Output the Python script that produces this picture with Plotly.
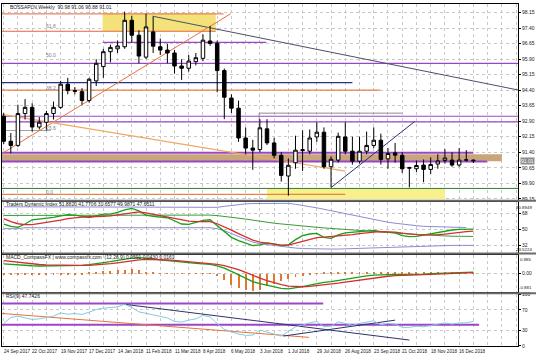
import plotly.graph_objects as go
from plotly.subplots import make_subplots

# ---------------- data ----------------
open_ = [93.14, 91.93, 91.73, 93.27, 93.57, 92.62, 92.85, 93.27, 93.57, 94.69,
         94.38, 94.33, 93.90, 94.85, 95.54, 96.26, 96.40, 96.50, 97.78, 97.06,
         96.00, 97.22, 96.50, 96.34, 96.20, 95.57, 95.46, 95.78, 95.94, 96.78,
         96.66, 95.35, 94.02, 93.53, 92.09, 91.60, 91.53, 92.53, 91.85, 91.25,
         90.25, 90.89, 91.48, 91.45, 92.14, 92.37, 90.70, 91.02, 92.14, 91.45,
         90.97, 91.45, 91.73, 91.98, 91.08, 91.37, 91.25, 90.63, 90.60, 90.78,
         90.57, 90.83, 91.00, 91.02, 90.78, 91.02, 90.98]
high = [93.30, 92.33, 93.70, 93.97, 93.77, 93.10, 93.40, 93.85, 94.85, 95.00,
        94.55, 94.50, 95.00, 95.90, 96.40, 96.60, 96.80, 98.20, 98.00, 97.30,
        98.10, 97.95, 96.90, 96.65, 96.35, 95.90, 96.10, 96.20, 97.10, 97.50,
        96.80, 95.45, 94.20, 93.90, 92.60, 92.00, 93.00, 93.00, 92.10, 91.40,
        91.10, 92.20, 92.46, 92.50, 92.85, 92.60, 91.20, 92.35, 92.85, 92.15,
        92.15, 92.40, 92.60, 92.30, 91.60, 91.85, 91.40, 90.70, 91.00, 91.05,
        91.15, 91.30, 91.55, 91.40, 91.60, 91.50, 91.06]
low = [91.80, 91.35, 91.65, 92.98, 92.40, 92.50, 92.45, 92.98, 93.50, 94.20,
       94.20, 93.70, 93.80, 94.60, 95.00, 95.75, 96.20, 96.40, 96.70, 95.70,
       95.90, 96.20, 96.10, 95.70, 95.20, 94.90, 95.30, 95.60, 95.80, 96.55,
       94.30, 93.00, 93.30, 91.90, 91.30, 90.55, 91.40, 91.75, 91.10, 89.98,
       89.30, 90.60, 90.50, 91.30, 91.90, 90.60, 89.70, 90.90, 91.30, 90.80,
       90.85, 91.30, 91.60, 90.80, 90.60, 90.90, 90.40, 89.70, 90.45, 89.95,
       90.35, 90.60, 90.85, 90.70, 90.70, 90.95, 90.88]
close = [91.93, 91.73, 93.27, 93.57, 92.62, 92.85, 93.27, 93.57, 94.69, 94.38,
         94.35, 93.90, 94.93, 95.70, 96.26, 96.47, 96.54, 97.78, 97.06, 96.05,
         97.46, 96.53, 96.34, 96.20, 95.57, 95.46, 95.81, 95.97, 96.82, 96.66,
         95.35, 94.06, 93.53, 92.09, 91.60, 91.50, 92.58, 91.85, 91.25, 90.28,
         90.77, 91.50, 91.52, 92.09, 92.37, 90.70, 91.06, 92.17, 91.45, 90.97,
         91.45, 91.73, 91.98, 91.05, 91.34, 91.26, 90.60, 90.65, 90.76, 90.57,
         90.81, 90.98, 91.12, 90.78, 91.02, 91.03, 91.01]
bars = list(range(len(close)))

date_labels = ["24 Sep 2017", "22 Oct 2017", "19 Nov 2017", "17 Dec 2017", "14 Jan 2018",
               "11 Feb 2018", "11 Mar 2018", "8 Apr 2018", "6 May 2018", "3 Jun 2018",
               "1 Jul 2018", "29 Jul 2018", "26 Aug 2018", "23 Sep 2018", "21 Oct 2018",
               "18 Nov 2018", "16 Dec 2018"]
date_label_bars = [0, 4, 8, 12, 16, 20, 24, 28, 32, 36, 40, 44, 48, 52, 56, 60, 64]

price_ticks = [98.15, 97.40, 96.65, 95.90, 95.15, 94.40, 93.65, 92.90, 92.15, 91.40, 90.65, 89.90, 89.15]

# Traders Dynamic Index
tdi_upper = [75.3]*20 + [74.7]*11 + [75.8, 77.0, 78.1, 78.6, 79.0, 79.2, 79.2, 79.2, 79.2, 79.2,
             78.1, 77.0, 75.8, 74.1, 72.5, 70.8, 69.1, 67.4, 65.7, 64.0, 62.3, 60.6, 59.2, 57.8,
             56.7, 55.6, 54.7, 53.9, 53.2, 52.8, 52.4, 52.2, 52.1, 52.0, 51.88]
tdi_lower = [50.5, 50.5, 50.5] + [51.6]*27 + [50.5, 48.3, 44.9, 41.5, 38.2, 35.3, 33.6, 32.5, 31.4,
             30.3, 29.4, 28.6, 28.0, 27.7, 27.45, 27.45, 27.45, 27.45, 27.7, 28.0, 28.4, 28.8, 29.2,
             29.5, 29.8, 30.2, 30.5, 30.7, 30.9, 31.2, 31.4, 31.5, 31.6, 31.6, 31.6, 31.6, 31.66]
tdi_base = [65.5]*11 + [66.3]*15 + [65.9]*4 + [65.3, 64.5, 63.6, 62.6, 61.4, 60.2, 58.8, 57.6,
            56.7, 55.9, 55.0, 54.2, 53.4, 52.8, 52.1, 51.4, 50.9, 50.3, 50.0, 49.4, 48.9, 48.3,
            47.7, 47.1, 46.4, 45.7, 45.1, 44.5, 43.9, 43.4, 43.0, 42.6, 42.3, 42.0, 41.9, 41.8, 41.77]
tdi_rsi = [55.8, 53.1, 52.0, 55.8, 60.6, 61.4, 62.1, 63.2, 65.1, 66.3, 65.9, 64.4, 63.2, 65.1,
           67.0, 67.0, 68.9, 71.9, 73.4, 70.8, 65.9, 64.4, 64.0, 62.9, 59.5, 55.8, 55.4, 57.6,
           59.9, 60.6, 53.9, 47.1, 40.7, 37.0, 34.0, 31.4, 32.2, 34.4, 33.3, 31.4, 32.2, 38.1,
           42.6, 44.5, 45.2, 40.7, 39.6, 43.4, 45.7, 46.4, 47.9, 48.6, 48.6, 47.1, 46.4, 45.7,
           42.6, 41.5, 41.9, 43.4, 44.1, 45.7, 47.1, 49.0, 49.7, 50.2, 49.99]
tdi_signal = [61.8, 58.4, 56.1, 55.0, 55.0, 56.1, 57.3, 58.4, 60.1, 61.8, 62.9, 63.5, 64.0, 64.0,
              64.6, 65.1, 66.3, 67.9, 69.1, 69.6, 68.5, 66.8, 65.1, 63.5, 61.8, 60.1, 59.0, 58.4,
              58.4, 58.4, 56.1, 52.8, 48.8, 44.9, 40.9, 37.6, 35.3, 34.2, 33.1, 31.9, 31.9, 34.2,
              36.5, 38.7, 40.4, 40.9, 41.5, 42.6, 43.2, 43.8, 44.9, 46.0, 46.6, 47.1, 47.1, 46.6,
              45.5, 44.3, 43.8, 43.4, 43.4, 43.8, 44.3, 45.5, 46.6, 47.1, 47.65]

# MACD CompassFX
macd_main = [0.45, 0.42, 0.39, 0.37, 0.36, 0.35, 0.35, 0.35, 0.36, 0.37, 0.37, 0.38,
             0.41, 0.45, 0.50, 0.55, 0.61, 0.67, 0.72, 0.74,
             0.72, 0.68, 0.64, 0.60, 0.57, 0.53, 0.50, 0.47, 0.45, 0.43,
             0.36, 0.25, 0.10, -0.06, -0.22, -0.38, -0.48, -0.56, -0.63, -0.70, -0.72,
             -0.68, -0.62, -0.55, -0.47, -0.42, -0.38, -0.32, -0.26, -0.20, -0.15,
             -0.11, -0.08, -0.06, -0.05, -0.04, -0.05, -0.05, -0.04, -0.03, -0.01,
             0.01, 0.02, 0.03, 0.04, 0.05, 0.059]
macd_signal = [0.60, 0.56, 0.52, 0.48, 0.45, 0.42, 0.40, 0.39, 0.38, 0.38, 0.38, 0.38,
               0.38, 0.40, 0.42, 0.46, 0.50, 0.55, 0.60, 0.64,
               0.66, 0.66, 0.65, 0.63, 0.61, 0.58, 0.55, 0.52, 0.49, 0.47,
               0.43, 0.37, 0.29, 0.18, 0.05, -0.09, -0.22, -0.33, -0.43, -0.52, -0.59,
               -0.62, -0.62, -0.60, -0.57, -0.53, -0.49, -0.45, -0.40, -0.35, -0.30,
               -0.25, -0.20, -0.16, -0.13, -0.10, -0.08, -0.07, -0.06, -0.05, -0.04,
               -0.03, -0.02, -0.01, 0.01, 0.03, 0.043]
macd_hist = [-0.07, -0.07, -0.06, -0.06, -0.06, -0.05, -0.05, -0.05, -0.05, -0.04, -0.04, -0.04,
             0.05, 0.08, 0.12, 0.15, 0.18, 0.20, 0.22, 0.18,
             0.10, 0.05, 0.03, 0.03, 0.03, 0.03, 0.03, 0.03, 0.03, 0.03,
             -0.10, -0.30, -0.50, -0.65, -0.75, -0.80, -0.75, -0.55, -0.45, -0.35, -0.25,
             -0.15, -0.08, -0.04, 0.04, 0.05, 0.05, 0.06, 0.06, 0.06, 0.06,
             0.07, 0.07, 0.07, 0.06, 0.06, 0.05, 0.05, 0.05, 0.05, 0.05,
             0.05, 0.05, 0.05, 0.05, 0.05, 0.016]

rsi9 = [43.7, 55.2, 57.7, 55.2, 51.3, 52.5, 55.2, 57.7, 64.0, 61.5, 62.9, 61.0, 65.4, 70.6, 73.1,
        74.4, 75.6, 80.8, 74.4, 66.0, 62.9, 60.2, 56.3, 54.4, 47.5, 46.2, 50.0, 52.5, 59.0, 56.3,
        43.7, 32.1, 27.5, 23.1, 20.6, 21.2, 30.8, 27.5, 23.1, 19.2, 27.5, 37.1, 40.4, 44.8, 47.5,
        37.1, 38.5, 46.7, 43.7, 39.8, 43.7, 46.2, 48.7, 41.0, 43.7, 42.3, 36.0, 36.0, 38.5, 37.1,
        39.8, 42.3, 44.8, 42.3, 44.8, 44.8, 47.74]

# drawn objects on the price chart: (price, start bar, end bar, colour, width)
X_LEFT, X_RIGHT = -0.24, 72.27
h_levels = [
    (98.09, X_LEFT, 30.9, "#E8643C", 1),
    (97.25, X_LEFT, 29.8, "#E8643C", 1),
    (96.71, 13.9, 36.9, "#9A46C8", 1.2),
    (95.70, X_LEFT, X_RIGHT, "#9A46C8", 1.2),
    (94.77, X_LEFT, 49.0, "#27308A", 1.2),
    (94.40, X_LEFT, 52.9, "#E8824A", 1.2),
    (93.29, 35.9, 56.0, "#8C8C8C", 1),
    (93.14, X_LEFT, X_RIGHT, "#9A46C8", 1.2),
    (92.87, X_LEFT, X_RIGHT, "#9A46C8", 1.2),
    (92.45, X_LEFT, 6.6, "#A0A0A0", 1),
    (91.38, X_LEFT, 66.0, "#9A46C8", 2),
    (90.95, X_LEFT, 67.9, "#9A46C8", 2),
    (89.65, X_LEFT, X_RIGHT, "#2E7D32", 1),
    (89.36, X_LEFT, 48.0, "#E8824A", 1.2),
]
# zones: (bar0, bar1, price0, price1, colour)
zones = [
    (13.9, 29.8, 97.25, 98.11, "#F3E27A"),
    (X_LEFT, 70.0, 90.96, 91.30, "#C9A57C"),
    (37.0, 62.0, 89.13, 89.64, "#F8F08A"),
]
# trend lines: (bar0, price0, bar1, price1, colour, width)
trends = [
    (20.9, 97.98, X_RIGHT, 94.41, "#4B4F6B", 1),
    (-0.14, 91.36, 31.9, 98.10, "#E8703A", 1),
    (X_LEFT, 93.23, 48.0, 90.49, "#F0A860", 1.2),
    (46.0, 89.69, 57.8, 92.90, "#303070", 1),
    (35.9, 93.29, 35.9, 92.57, "#8C8C8C", 1),
]
fib_labels = [(5.7, 97.50, "61.8"), (5.7, 96.12, "50.0"), (5.7, 94.53, "38.2"),
              (5.7, 92.55, "23.6"), (5.7, 89.50, "0.0")]

# RSI panel objects
rsi_levels = [(82.1, X_LEFT, 44.9, "#9A46C8", 2), (41.3, X_LEFT, 66.8, "#9A46C8", 2)]
rsi_trends = [(16.9, 80.8, 57.0, 11.5, "#303070"), (X_LEFT, 62.9, 42.9, 16.7, "#E8703A"),
              (39.3, 19.2, 55.0, 50.0, "#303070")]

# ---------------- figure ----------------
fig = make_subplots(rows=4, cols=1, shared_xaxes=True, vertical_spacing=0)

fig.add_trace(go.Candlestick(x=bars, open=open_, high=high, low=low, close=close,
                             increasing=dict(line=dict(color="black", width=1), fillcolor="white"),
                             decreasing=dict(line=dict(color="black", width=1), fillcolor="black"),
                             showlegend=False, hoverinfo="skip"), row=1, col=1)

fig.add_trace(go.Scatter(x=bars, y=tdi_upper, mode="lines", line=dict(color="#8C8CCF", width=1)), row=2, col=1)
fig.add_trace(go.Scatter(x=bars, y=tdi_lower, mode="lines", line=dict(color="#8C8CCF", width=1)), row=2, col=1)
fig.add_trace(go.Scatter(x=bars, y=tdi_base, mode="lines", line=dict(color="#3A9A3A", width=1)), row=2, col=1)
fig.add_trace(go.Scatter(x=bars, y=tdi_rsi, mode="lines", line=dict(color="#18A018", width=1.3)), row=2, col=1)
fig.add_trace(go.Scatter(x=bars, y=tdi_signal, mode="lines", line=dict(color="#D23030", width=1.3)), row=2, col=1)

fig.add_trace(go.Bar(x=bars, y=macd_hist, marker=dict(color="#E07830", line=dict(width=0)), width=0.13), row=3, col=1)
fig.add_trace(go.Scatter(x=bars, y=macd_main, mode="lines", line=dict(color="#18A018", width=1.3)), row=3, col=1)
fig.add_trace(go.Scatter(x=bars, y=macd_signal, mode="lines", line=dict(color="#D23030", width=1.3)), row=3, col=1)

fig.add_trace(go.Scatter(x=bars, y=rsi9, mode="lines", line=dict(color="#86C8E0", width=1)), row=4, col=1)

shapes = []
for b0, b1, p0, p1, c in zones:
    shapes.append(dict(type="rect", xref="x", yref="y", x0=b0, x1=b1, y0=p0, y1=p1,
                       fillcolor=c, line=dict(width=0), layer="between"))
for p, b0, b1, c, w in h_levels:
    shapes.append(dict(type="line", xref="x", yref="y", x0=b0, x1=b1, y0=p, y1=p,
                       line=dict(color=c, width=w), layer="between"))
for b0, p0, b1, p1, c, w in trends:
    shapes.append(dict(type="line", xref="x", yref="y", x0=b0, x1=b1, y0=p0, y1=p1,
                       line=dict(color=c, width=w), layer="between"))
for v, b0, b1, c, w in rsi_levels:
    shapes.append(dict(type="line", xref="x4", yref="y4", x0=b0, x1=b1, y0=v, y1=v,
                       line=dict(color=c, width=w), layer="between"))
for b0, v0, b1, v1, c in rsi_trends:
    shapes.append(dict(type="line", xref="x4", yref="y4", x0=b0, x1=b1, y0=v0, y1=v1,
                       line=dict(color=c, width=1), layer="between"))
# panel separators
for yp in [0.4244, 0.2703, 0.1541]:
    shapes.append(dict(type="line", xref="paper", yref="paper", x0=0, x1=1.035, y0=yp, y1=yp,
                       line=dict(color="#6A6A6A", width=2)))

FONT = "Liberation Sans Narrow, Liberation Sans, Arial"
FONT2 = "Liberation Sans"
ann = []
for b, lab_ in zip(date_label_bars, date_labels):
    ann.append(dict(x=b, y=-0.0175, xref="x4", yref="paper", text=lab_, showarrow=False,
                    xanchor="left", yanchor="middle", xshift=-2,
                    font=dict(size=4.6, color="#202020", family=FONT)))
for b, p, t in fib_labels:
    ann.append(dict(x=b, y=p, xref="x", yref="y", text=t, showarrow=False, xanchor="left",
                    yanchor="middle", font=dict(size=5, color="#808080", family=FONT2)))

def lab(xp, yp, text, size=5, anchor="left", yanchor="middle", color="#202020", bg=None, fam=FONT2):
    d = dict(x=xp, y=yp, xref="paper", yref="paper", text=text, showarrow=False,
             xanchor=anchor, yanchor=yanchor, font=dict(size=size, color=color, family=fam))
    if bg:
        d["bgcolor"] = bg
        d["borderpad"] = 0
    ann.append(d)

RIGHT_EDGE = (534 - 1) / 517
lab(0.012, 0.99, "BOSSAPLN,Weekly  90.98 91.06 90.88 91.01")
lab(0.004, 0.415, "Traders Dynamic Index 51.8820 41.7706 31.6577 49.9871 47.6511")
lab(0.004, 0.259, "MACD_CompassFX | www.compassfx.com  (12,26,9) 0.0591 0.0430 0.0161")
lab(0.004, 0.145, "RSI(9) 47.7426")
# extreme labels on right
lab(RIGHT_EDGE, 0.419, "80.8949", size=4.4, anchor="right", yanchor="top", fam=FONT)
lab(RIGHT_EDGE, 0.268, "23.5224", size=4.4, anchor="right", yanchor="bottom", fam=FONT)
lab(RIGHT_EDGE, 0.266, "0.885", size=4.4, anchor="right", yanchor="top", fam=FONT)
lab(RIGHT_EDGE, 0.158, "-0.881", size=4.4, anchor="right", yanchor="bottom", fam=FONT)
lab(1.003, (346 - 160) / 344, "91.01", size=5, color="white", bg="#8A8A8A")

fig.update_layout(
    width=536, height=357, margin=dict(l=1, r=18, t=2, b=11),
    paper_bgcolor="white", plot_bgcolor="white", showlegend=False,
    shapes=shapes, annotations=ann, bargap=0,
    font=dict(family=FONT2, size=6, color="#202020"),
)

grid = dict(showgrid=True, gridcolor="#C8C8C8", griddash="dot", gridwidth=1)
for i in range(1, 5):
    fig.update_xaxes(range=[X_LEFT, X_RIGHT], tick0=0, dtick=2, showticklabels=False,
                     showline=True, linecolor="black", linewidth=1, mirror=True,
                     rangeslider=dict(visible=False), zeroline=False, **grid, row=i, col=1)

axis_common = dict(side="right", showline=True, linecolor="black", linewidth=1, mirror=True,
                   ticks="outside", ticklen=2, tickcolor="black", zeroline=False,
                   tickfont=dict(size=5, family=FONT2, color="#202020"), **grid)
fig.update_layout(
    yaxis=dict(domain=[0.4273, 1.0], range=[89.097, 98.568], tickvals=price_ticks,
               ticktext=[f"{v:.2f}" for v in price_ticks], **axis_common),
    yaxis2=dict(domain=[0.2733, 0.4215], range=[23.52, 80.89], tickvals=[68, 50, 32],
                ticktext=["68", "50", "32"], **axis_common),
    yaxis3=dict(domain=[0.1570, 0.2674], range=[-0.881, 0.885], tickvals=[0],
                ticktext=["0.00"], **axis_common),
    yaxis4=dict(domain=[0.0, 0.1512], range=[0, 100], tickvals=[100, 70, 30, 0],
                ticktext=["100", "70", "30", "0"], **axis_common),
)

fig.write_html("out.html")
